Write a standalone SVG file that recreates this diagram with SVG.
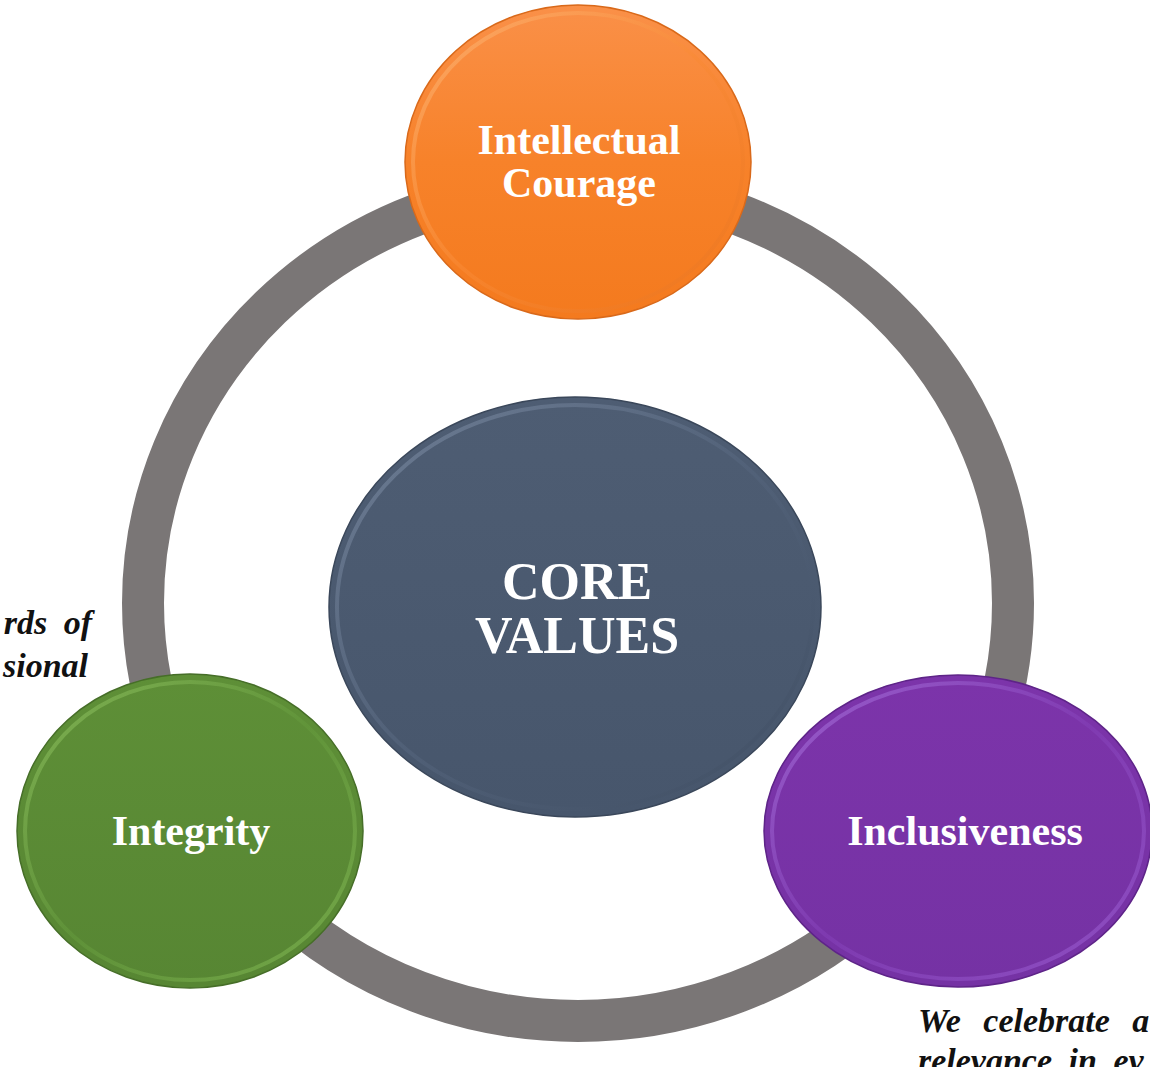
<svg xmlns="http://www.w3.org/2000/svg" width="1150" height="1067" viewBox="0 0 1150 1067">
<style>
.lbl{font-family:"Liberation Serif","Times New Roman",serif;font-weight:bold;fill:#ffffff;text-anchor:middle}
.note{font-family:"Liberation Serif","Times New Roman",serif;font-weight:bold;font-style:italic;fill:#111111;font-size:34px}
.rim{fill:none;stroke-width:4;stroke-opacity:0.55}
</style>
<defs>
<linearGradient id="gO" x1="0" y1="0" x2="0" y2="1"><stop offset="0" stop-color="#fa9048"/><stop offset="0.5" stop-color="#f7822a"/><stop offset="1" stop-color="#f47a1e"/></linearGradient>
<linearGradient id="gC" x1="0" y1="0" x2="0" y2="1"><stop offset="0" stop-color="#4e5d73"/><stop offset="1" stop-color="#47566c"/></linearGradient>
<linearGradient id="gG" x1="0" y1="0" x2="0" y2="1"><stop offset="0" stop-color="#5e8f37"/><stop offset="1" stop-color="#578633"/></linearGradient>
<linearGradient id="gP" x1="0" y1="0" x2="0" y2="1"><stop offset="0" stop-color="#7c34aa"/><stop offset="1" stop-color="#7532a4"/></linearGradient>
<linearGradient id="rO" x1="0" y1="0" x2="1" y2="1"><stop offset="0" stop-color="#fdc084"/><stop offset="0.5" stop-color="#f98a35"/><stop offset="1" stop-color="#e8731e"/></linearGradient>
<linearGradient id="rC" x1="0" y1="0" x2="1" y2="1"><stop offset="0" stop-color="#8a9ab2"/><stop offset="0.5" stop-color="#56667e"/><stop offset="1" stop-color="#3c4a5e"/></linearGradient>
<linearGradient id="rG" x1="0" y1="0" x2="1" y2="1"><stop offset="0" stop-color="#9acd6a"/><stop offset="0.5" stop-color="#64993c"/><stop offset="1" stop-color="#8cc45c"/></linearGradient>
<linearGradient id="rP" x1="0" y1="0" x2="1" y2="1"><stop offset="0" stop-color="#b282e8"/><stop offset="0.5" stop-color="#8440b8"/><stop offset="1" stop-color="#a468dc"/></linearGradient>
</defs>
<rect width="1150" height="1067" fill="#ffffff"/>
<g id="connectors">
<ellipse cx="578" cy="603" rx="435" ry="418" fill="none" stroke="#7a7676" stroke-width="42"/>
</g>
<g id="node-intellectual-courage">
<ellipse cx="578" cy="162" rx="173" ry="157" fill="url(#gO)" stroke="#d9691a" stroke-width="1.5"/>
<ellipse cx="578" cy="162" rx="165" ry="149" class="rim" stroke="url(#rO)"/>
<text class="lbl" x="579" y="154" font-size="42">Intellectual</text>
<text class="lbl" x="579" y="197" font-size="42">Courage</text>
</g>
<g id="node-core-values">
<ellipse cx="575" cy="607" rx="246" ry="210" fill="url(#gC)" stroke="#3a475a" stroke-width="1.5"/>
<ellipse cx="575" cy="607" rx="238" ry="202" class="rim" stroke="url(#rC)"/>
<text class="lbl" x="577" y="599" font-size="52">CORE</text>
<text class="lbl" x="577" y="653" font-size="52">VALUES</text>
</g>
<g id="node-integrity">
<ellipse cx="190" cy="831" rx="173" ry="157" fill="url(#gG)" stroke="#466e28" stroke-width="1.5"/>
<ellipse cx="190" cy="831" rx="165" ry="149" class="rim" stroke="url(#rG)"/>
<text class="lbl" x="191" y="845" font-size="42">Integrity</text>
</g>
<g id="node-inclusiveness">
<ellipse cx="958" cy="831" rx="194" ry="156" fill="url(#gP)" stroke="#5e2488" stroke-width="1.5"/>
<ellipse cx="958" cy="831" rx="186" ry="148" class="rim" stroke="url(#rP)"/>
<text class="lbl" x="965" y="845" font-size="42">Inclusiveness</text>
</g>
<g id="notes">
<text class="note" x="92" y="634" text-anchor="end" word-spacing="8">rds of</text>
<text class="note" x="88" y="677" text-anchor="end">sional</text>
<text class="note" x="918" y="1032" font-size="36" word-spacing="14">We celebrate a</text>
<text class="note" x="918" y="1072" font-size="36" word-spacing="8">relevance in ev</text>
</g>
</svg>
